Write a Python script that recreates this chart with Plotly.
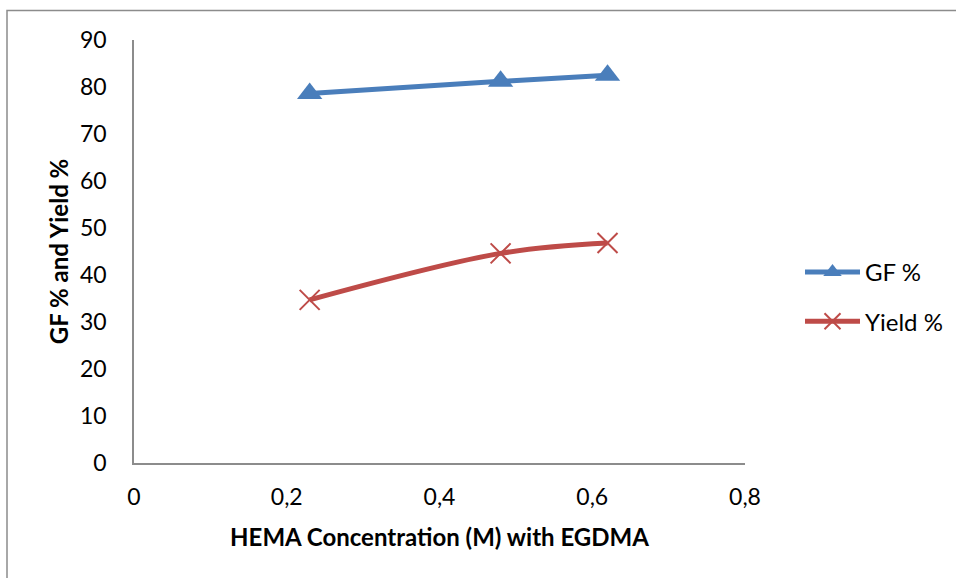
import plotly.graph_objects as go

# Data
hema_conc = [0.23, 0.48, 0.62]
gf_pct = [78.6, 81.2, 82.5]
yield_pct = [34.7, 44.6, 46.8]

x_tickvals = [0, 0.2, 0.4, 0.6, 0.8]
x_ticktext = ["0", "0,2", "0,4", "0,6", "0,8"]
y_tickvals = [0, 10, 20, 30, 40, 50, 60, 70, 80, 90]
y_ticktext = [str(v) for v in y_tickvals]

W, H = 956, 578
L, R, T, B = 134, 211, 40, 115
pw, ph = W - L - R, H - T - B

FONT = "Lato"
TICK_SIZE = 23
TITLE_SIZE = 24

fig = go.Figure()
fig.add_trace(go.Scatter(
    x=hema_conc, y=gf_pct, name="GF %", mode="lines+markers",
    line=dict(color="#4A7EBB", width=5, shape="spline"),
    marker=dict(symbol="triangle-up", size=22, color="#4A7EBB"),
    legendgroup="a",
))
fig.add_trace(go.Scatter(
    x=hema_conc, y=yield_pct, name="Yield %", mode="lines+markers",
    line=dict(color="#BE4B48", width=5, shape="spline"),
    marker=dict(symbol="x-thin-open", size=20, color="#BE4B48",
                line=dict(color="#BE4B48", width=2)),
    legendgroup="b",
))

# outer chart border
fig.add_shape(type="rect", xref="paper", yref="paper",
              x0=(7 - L) / pw, x1=(W + 20 - L) / pw,
              y0=(H - B - (H + 20)) / ph, y1=(H - B - 10.5) / ph,
              line=dict(color="#8C8C8C", width=1.5), fillcolor="rgba(0,0,0,0)",
              layer="below")

fig.update_layout(
    width=W, height=H,
    margin=dict(l=L, r=R, t=T, b=B, autoexpand=False),
    paper_bgcolor="white", plot_bgcolor="white",
    font=dict(family=FONT, size=TICK_SIZE, color="#000000"),
    showlegend=True,
    legend=dict(x=(800 - L) / pw, y=(H - B - 250) / ph, xanchor="left", yanchor="top",
                font=dict(family=FONT, size=TITLE_SIZE, color="#000000"),
                tracegroupgap=15, itemwidth=55, bgcolor="rgba(0,0,0,0)"),
    xaxis=dict(range=[0, 0.8], tickvals=x_tickvals, ticktext=x_ticktext,
               showgrid=False, zeroline=False, showline=True,
               linecolor="#8C8C8C", linewidth=1.5,
               ticks="outside", ticklen=13, tickcolor="rgba(0,0,0,0)",
               tickfont=dict(family=FONT, size=TICK_SIZE),
               title=dict(text="<b>HEMA Concentration (M) with EGDMA</b>",
                          font=dict(family=FONT, size=TITLE_SIZE), standoff=20)),
    yaxis=dict(range=[0, 90], tickvals=y_tickvals, ticktext=y_ticktext,
               showgrid=False, zeroline=False, showline=True,
               linecolor="#8C8C8C", linewidth=1.5,
               ticks="outside", ticklen=21, tickcolor="rgba(0,0,0,0)",
               tickfont=dict(family=FONT, size=TICK_SIZE),
               title=dict(text="<b>GF % and Yield %</b>",
                          font=dict(family=FONT, size=TITLE_SIZE), standoff=5)),
)

fig.write_html("out.html")
